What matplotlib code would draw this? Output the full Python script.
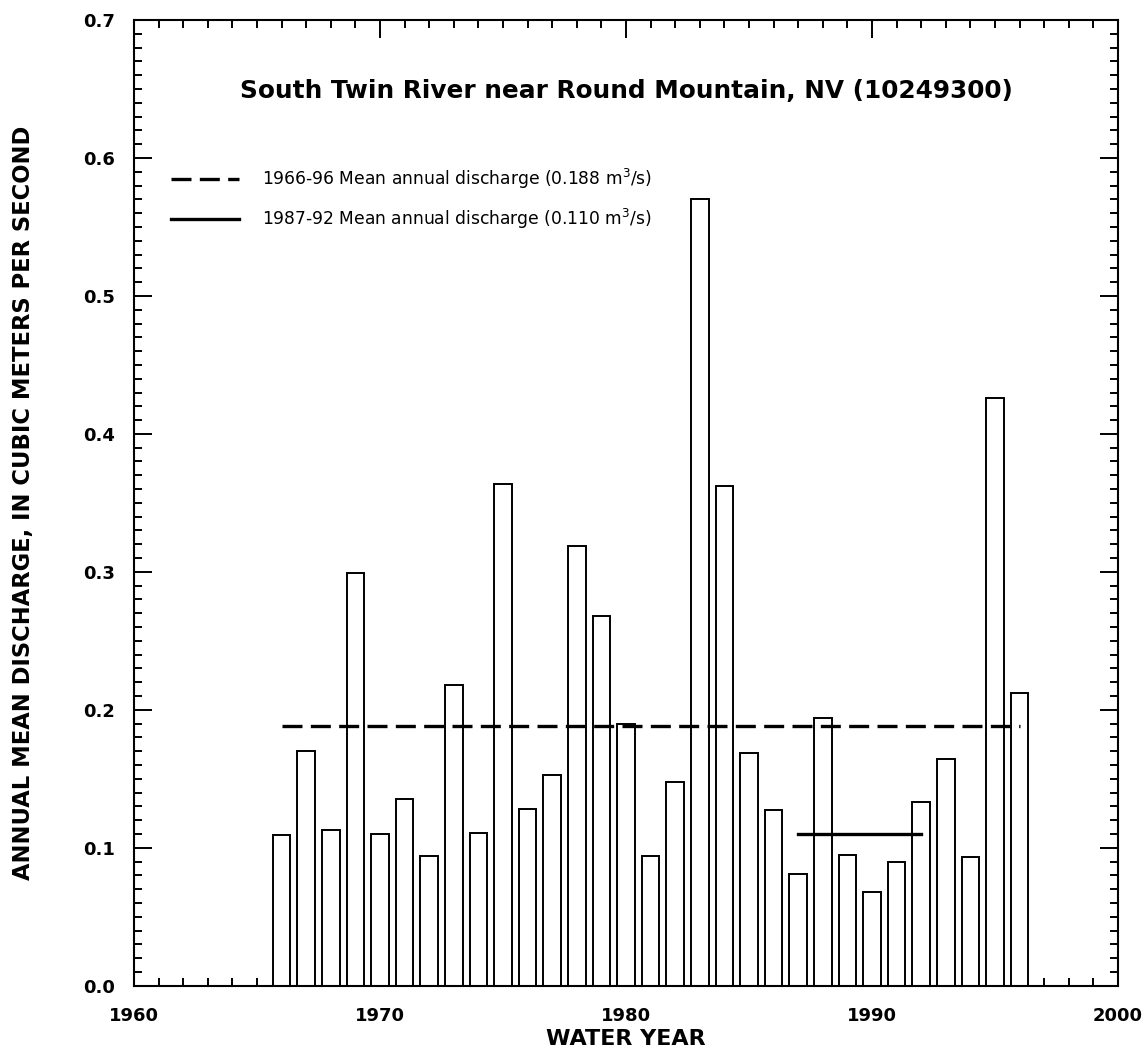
import matplotlib
matplotlib.use('Agg')
import matplotlib.pyplot as plt
from matplotlib.ticker import MultipleLocator, FormatStrFormatter

# annual mean discharge, m3/s
years = list(range(1966, 1997))
discharge = [0.109, 0.170, 0.113, 0.299, 0.110, 0.135, 0.094, 0.218, 0.111, 0.364,
             0.128, 0.153, 0.319, 0.268, 0.190, 0.094, 0.148, 0.570, 0.362, 0.169,
             0.127, 0.081, 0.194, 0.095, 0.068, 0.090, 0.133, 0.164, 0.093, 0.426,
             0.212]

# mean lines: (start year, end year, value)
mean_long = (1966, 1996, 0.188)
mean_short = (1987, 1992, 0.110)

plt.rcParams['font.family'] = ['DejaVu Sans']

fig = plt.figure(figsize=(11.47, 10.55), dpi=100)
ax = fig.add_axes([0.1168, 0.0657, 0.8579, 0.9153])

ax.bar(years, discharge, width=0.72, color='white', edgecolor='black', linewidth=1.4, zorder=2)

ax.plot([mean_long[0], mean_long[1]], [mean_long[2], mean_long[2]], color='black',
        linewidth=2.4, dashes=(6, 2.5), zorder=3,
        label='1966-96 Mean annual discharge (0.188 m$^3$/s)')
ax.plot([mean_short[0], mean_short[1]], [mean_short[2], mean_short[2]], color='black',
        linewidth=2.4, zorder=3,
        label='1987-92 Mean annual discharge (0.110 m$^3$/s)')

ax.set_xlim(1960, 2000)
ax.set_ylim(0, 0.7)
ax.xaxis.set_major_locator(MultipleLocator(10))
ax.xaxis.set_minor_locator(MultipleLocator(1))
ax.yaxis.set_major_locator(MultipleLocator(0.1))
ax.yaxis.set_minor_locator(MultipleLocator(0.01))
ax.tick_params(which='both', direction='in', top=True, right=True, width=1.4)
ax.tick_params(which='major', length=13, labelsize=13)
ax.tick_params(axis='x', which='major', pad=15)
ax.tick_params(axis='y', which='major', pad=14)
ax.tick_params(which='minor', length=6)
ax.yaxis.set_major_formatter(FormatStrFormatter('%.1f'))
for lab in ax.get_xticklabels() + ax.get_yticklabels():
    lab.set_fontweight('bold')
for sp in ax.spines.values():
    sp.set_linewidth(1.5)

ax.set_xlabel('WATER YEAR', fontsize=16, fontweight='bold', labelpad=3)
ax.set_ylabel('ANNUAL MEAN DISCHARGE, IN CUBIC METERS PER SECOND', fontsize=16.3,
              fontweight='bold', labelpad=34)
ax.text(0.5, 0.927, 'South Twin River near Round Mountain, NV (10249300)',
        transform=ax.transAxes, ha='center', va='center', fontsize=17.8, fontweight='bold')

ax.legend(loc='upper left', bbox_to_anchor=(0.022, 0.864), frameon=False, fontsize=12.3,
          handlelength=4.0, handletextpad=1.3, labelspacing=0.95)

fig.savefig('out.png', dpi=100)
